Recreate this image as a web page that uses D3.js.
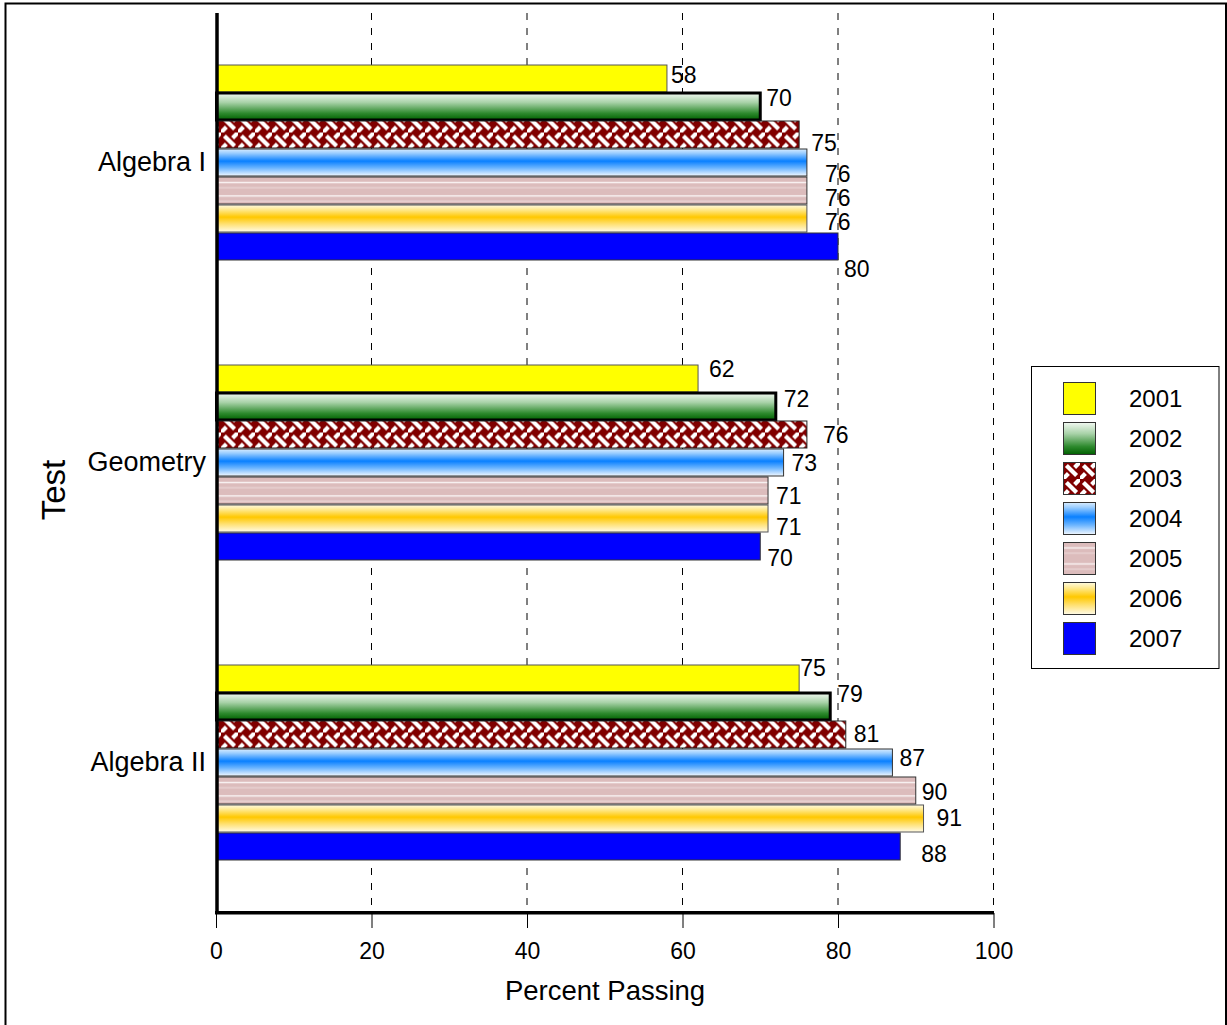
<!DOCTYPE html>
<html>
<head>
<meta charset="utf-8">
<script src="https://cdn.jsdelivr.net/npm/d3@7"></script>
<style>
  html, body { margin: 0; padding: 0; background: #fff; }
  svg { display: block; font-family: "Liberation Sans", Arial, sans-serif; }
</style>
</head>
<body>
<script>
// Test pass rates by year
const tests = ["Algebra I", "Geometry", "Algebra II"];
const years = ["2001", "2002", "2003", "2004", "2005", "2006", "2007"];
const algebra1 = [58, 70, 75, 76, 76, 76, 80];
const geometry = [62, 72, 76, 73, 71, 71, 70];
const algebra2 = [75, 79, 81, 87, 90, 91, 88];
const xTicks = [0, 20, 40, 60, 80, 100];

const values = [algebra1, geometry, algebra2];

// small per-label nudges (px) so value labels sit clear of neighbouring bars
const labelDx = [
  [4, 6, 12, 18, 18, 18, 6],
  [11, 8, 16, 8, 8, 8, 7],
  [1, 7, 8, 7, 6, 13, 21]
];
const labelDy = [
  [-4, -8, 9, 12, 8, 4, 23],
  [-10, -7, 1, 1, 6, 9, 12],
  [-11, -12, 0, -4, 2, 0, 8]
];

const W = 1227, H = 1025;
const svg = d3.select("body").append("svg").attr("width", W).attr("height", H);
const defs = svg.append("defs");

// vertical gradients
function vGrad(id, stops) {
  const g = defs.append("linearGradient").attr("id", id)
    .attr("x1", 0).attr("y1", 0).attr("x2", 0).attr("y2", 1);
  stops.forEach(([o, c]) => g.append("stop").attr("offset", o).attr("stop-color", c));
}
vGrad("gGreen", [[0, "#f2f9f2"], [0.35, "#a8d2a8"], [0.75, "#2e8a2e"], [1, "#006000"]]);
vGrad("gBlue", [[0, "#d8ecff"], [0.15, "#9cceff"], [0.45, "#0a80ff"], [0.7, "#6ab4ff"], [1, "#f2f8ff"]]);
vGrad("gGold", [[0, "#fffbe0"], [0.2, "#ffe680"], [0.45, "#ffc800"], [0.7, "#ffe070"], [1, "#fffbe8"]]);

// basket-weave pattern
const T = 17;
const weave = defs.append("pattern").attr("id", "pWeave")
  .attr("patternUnits", "userSpaceOnUse").attr("width", T).attr("height", T);
weave.append("rect").attr("width", T).attr("height", T).attr("fill", "#800000");
const wl = (x1, y1, x2, y2) => weave.append("line")
  .attr("x1", x1).attr("y1", y1).attr("x2", x2).attr("y2", y2)
  .attr("stroke", "#fff").attr("stroke-width", 4.2).attr("stroke-linecap", "butt");
wl(3.4, 3.4, 13.6, 13.6);
wl(-1, T + 1, 5.4, T - 5.4);
wl(T - 5.4, 5.4, T + 1, -1);

// striped pink pattern, aligned to each bar
const stripe = defs.append("pattern").attr("id", "pStripe")
  .attr("patternUnits", "objectBoundingBox").attr("x", 0).attr("y", 0)
  .attr("width", 1).attr("height", 0.5);
stripe.append("rect").attr("width", 3000).attr("height", 40).attr("fill", "#dcbcbc");
stripe.append("rect").attr("y", 4.8).attr("width", 3000).attr("height", 1.3).attr("fill", "#fff").attr("opacity", 0.9);
stripe.append("rect").attr("y", 10.2).attr("width", 3000).attr("height", 1).attr("fill", "#fff").attr("opacity", 0.45);

const fills = ["#ffff00", "url(#gGreen)", "url(#pWeave)", "url(#gBlue)", "url(#pStripe)", "url(#gGold)", "#0000ff"];
const strokes = ["#555", "#000", "#222", "#333", "#333", "#555", "#333"];
const strokeW = [1, 3, 1, 1, 1, 1, 1];

// outer frame
svg.append("rect").attr("x", 5.5).attr("y", 3.5).attr("width", 1220.5).attr("height", 1040)
  .attr("fill", "none").attr("stroke", "#000").attr("stroke-width", 2);

const x = d3.scaleLinear().domain([0, 100]).range([216, 993.5]);
const y = d3.scaleBand().domain(tests).range([13, 912])
  .paddingInner(0.3467).paddingOuter(0.1717);
const yInner = d3.scaleBand().domain(years).range([0, y.bandwidth()]).padding(0);

// dashed gridlines
svg.append("g").selectAll("line").data(xTicks.filter(d => d > 0)).join("line")
  .attr("x1", d => x(d)).attr("x2", d => x(d))
  .attr("y1", 13).attr("y2", 912)
  .attr("stroke", "#000").attr("stroke-width", 1).attr("stroke-dasharray", "7,8");

// bars
const groups = svg.append("g").selectAll("g").data(tests).join("g")
  .attr("transform", d => `translate(0,${y(d)})`);

groups.each(function (t, gi) {
  const g = d3.select(this);
  const rows = years.map((yr, i) => ({ yr, i, v: values[gi][i] }));
  g.selectAll("rect").data(rows).join("rect")
    .attr("x", x(0) + 0.5)
    .attr("y", d => yInner(d.yr) + 0.5)
    .attr("width", d => x(d.v) - x(0) - 0.5)
    .attr("height", yInner.bandwidth() - 1)
    .attr("fill", d => fills[d.i])
    .attr("stroke", d => strokes[d.i])
    .attr("stroke-width", d => strokeW[d.i]);
  g.selectAll("text").data(rows).join("text")
    .attr("x", d => x(d.v) + labelDx[gi][d.i])
    .attr("y", d => yInner(d.yr) + yInner.bandwidth() / 2 + labelDy[gi][d.i])
    .attr("dominant-baseline", "central")
    .attr("font-size", 23)
    .attr("fill", "#000")
    .text(d => d.v);
});

// axes lines
svg.append("line").attr("x1", 217).attr("x2", 217).attr("y1", 13).attr("y2", 914)
  .attr("stroke", "#000").attr("stroke-width", 3.5);
svg.append("line").attr("x1", 215).attr("x2", 994).attr("y1", 912.7).attr("y2", 912.7)
  .attr("stroke", "#000").attr("stroke-width", 3.5);

// x axis ticks and labels
const xAxis = d3.axisBottom(x).tickValues(xTicks).tickSize(15).tickPadding(15).tickSizeOuter(0);
const xg = svg.append("g").attr("transform", "translate(0,913)").call(xAxis);
xg.select(".domain").remove();
xg.selectAll(".tick line").attr("stroke", "#000").attr("stroke-width", 1);
xg.selectAll(".tick text").attr("font-size", 23).attr("fill", "#000")
  .attr("font-family", "'Liberation Sans', Arial, sans-serif");

// category labels
const yAxis = d3.axisLeft(y).tickSize(0).tickPadding(10);
const yg = svg.append("g").attr("transform", "translate(216,0)").call(yAxis);
yg.select(".domain").remove();
yg.selectAll(".tick text").attr("font-size", 27).attr("fill", "#000")
  .attr("font-family", "'Liberation Sans', Arial, sans-serif");

// axis titles
svg.append("text").attr("x", 605).attr("y", 990).attr("text-anchor", "middle")
  .attr("dominant-baseline", "central").attr("font-size", 27.5).text("Percent Passing");
svg.append("text").attr("transform", "translate(53,490) rotate(-90)")
  .attr("text-anchor", "middle").attr("dominant-baseline", "central")
  .attr("font-size", 33).text("Test");

// legend
const lg = svg.append("g");
lg.append("rect").attr("x", 1031.5).attr("y", 366.5).attr("width", 187.5).attr("height", 302)
  .attr("fill", "#fff").attr("stroke", "#000").attr("stroke-width", 1);
const items = lg.selectAll("g.item").data(years).join("g").attr("class", "item")
  .attr("transform", (d, i) => `translate(1063,${382 + i * 40})`);
items.append("rect").attr("x", 0.5).attr("y", 0.5).attr("width", 32).attr("height", 32)
  .attr("fill", (d, i) => fills[i])
  .attr("stroke", "#333").attr("stroke-width", 1);
items.append("text").attr("x", 66).attr("y", 16).attr("dominant-baseline", "central")
  .attr("font-size", 24).text(d => d);
</script>
</body>
</html>
